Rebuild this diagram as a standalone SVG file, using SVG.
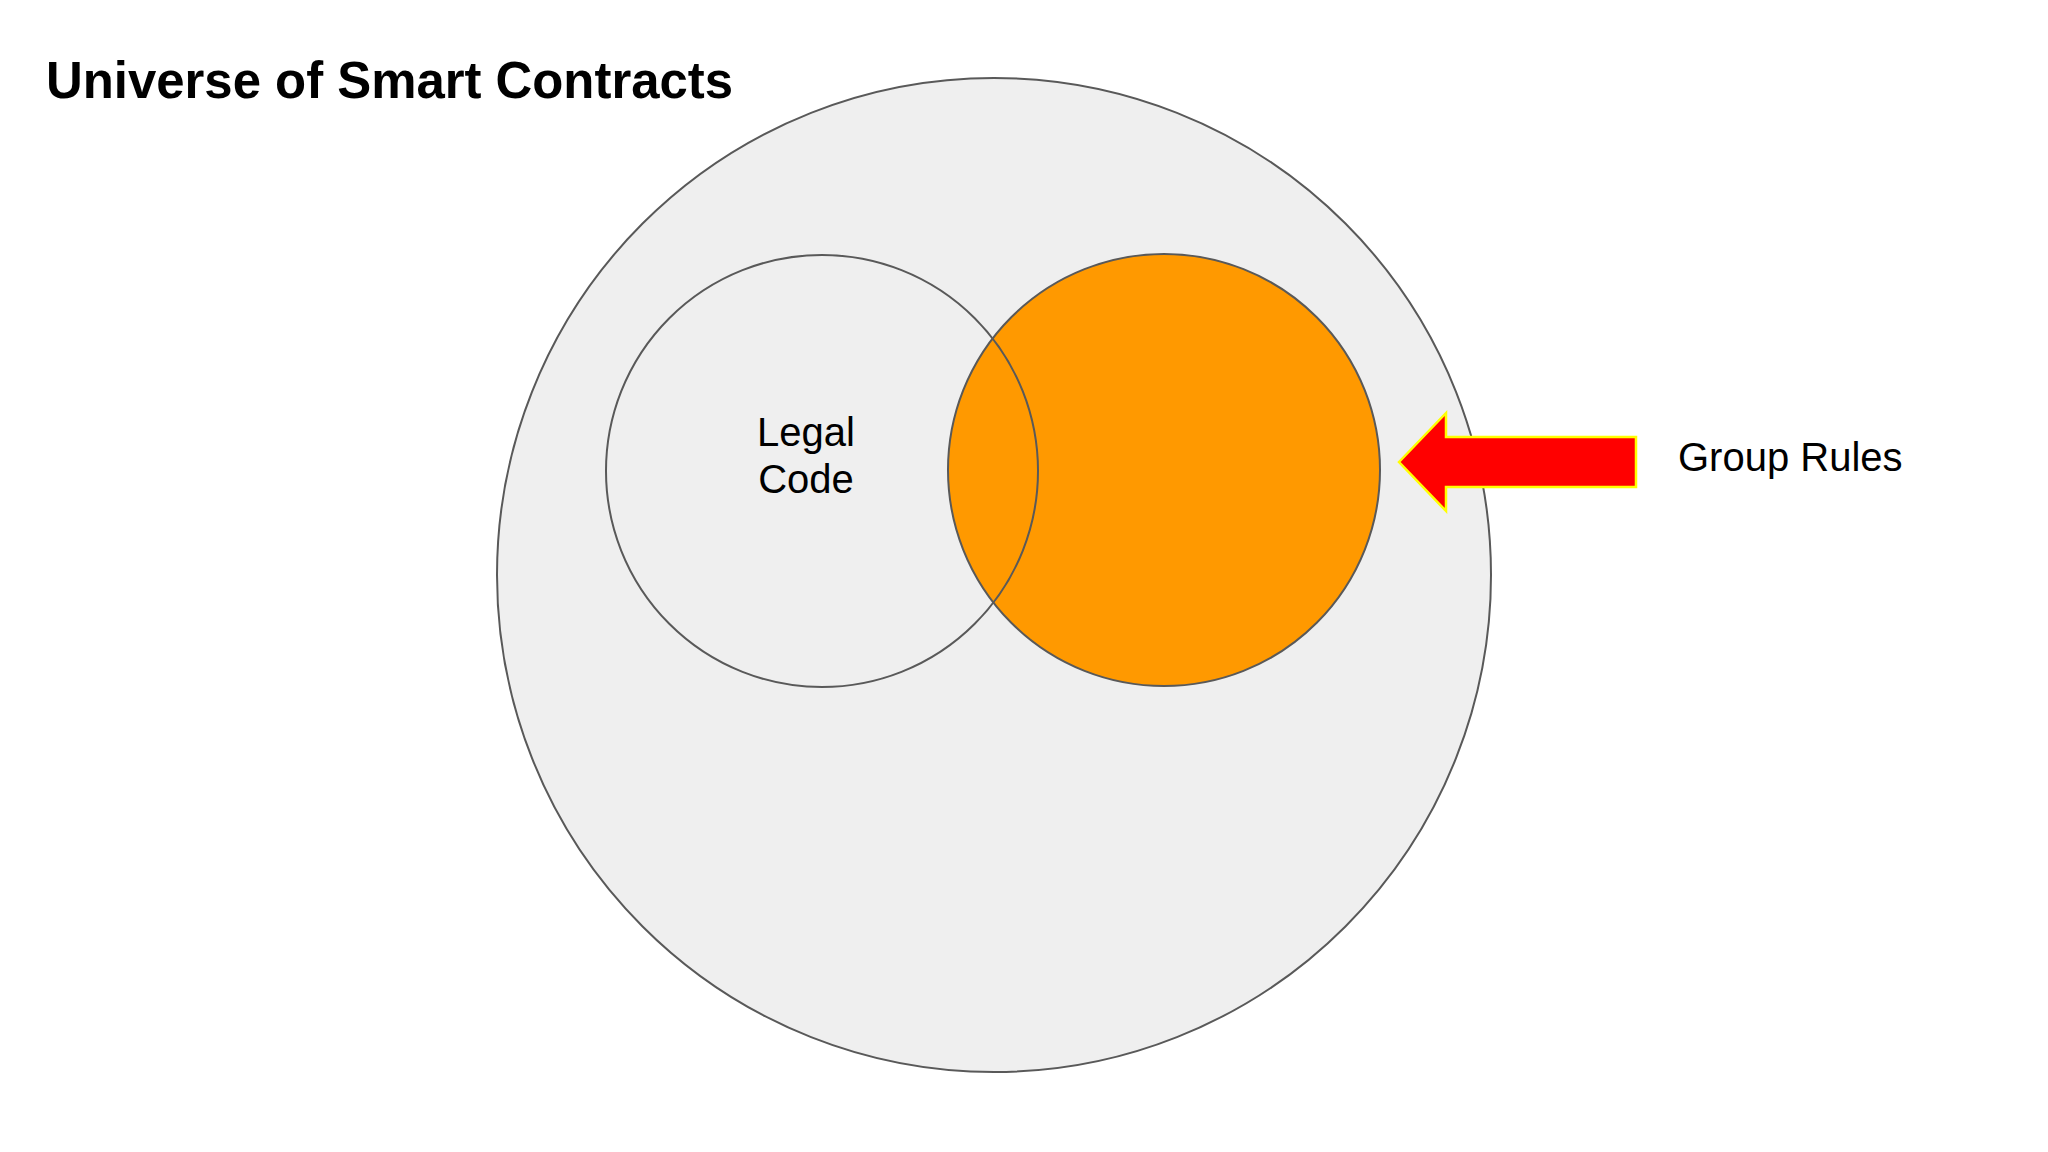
<svg xmlns="http://www.w3.org/2000/svg" width="2048" height="1152" viewBox="0 0 2048 1152">
<style>
.t{font-family:"Liberation Sans",Arial,sans-serif;fill:#000}
.ring{stroke:#595959;stroke-width:2}
</style>
<rect width="2048" height="1152" fill="#ffffff"/>
<g id="title"><text class="t" x="46" y="98" font-size="52" font-weight="bold" textLength="687" lengthAdjust="spacingAndGlyphs">Universe of Smart Contracts</text></g>
<g id="universe"><circle class="ring" cx="994" cy="575" r="497" fill="#efefef"/></g>
<g id="group-rules-circle"><circle class="ring" cx="1164" cy="470" r="216" fill="#ff9900"/></g>
<g id="legal-code"><circle class="ring" cx="822" cy="471" r="216" fill="none"/>
<text class="t" font-size="40" text-anchor="middle"><tspan x="806" y="446">Legal</tspan><tspan x="806" y="493">Code</tspan></text></g>
<g id="connectors"><polygon points="1399,462 1446,413 1446,437 1636,437 1636,487 1446,487 1446,511" fill="#ff0000" stroke="#ffff00" stroke-width="2.5" stroke-linejoin="miter"/></g>
<g id="group-rules-label"><text class="t" x="1678" y="471" font-size="40">Group Rules</text></g>
</svg>
